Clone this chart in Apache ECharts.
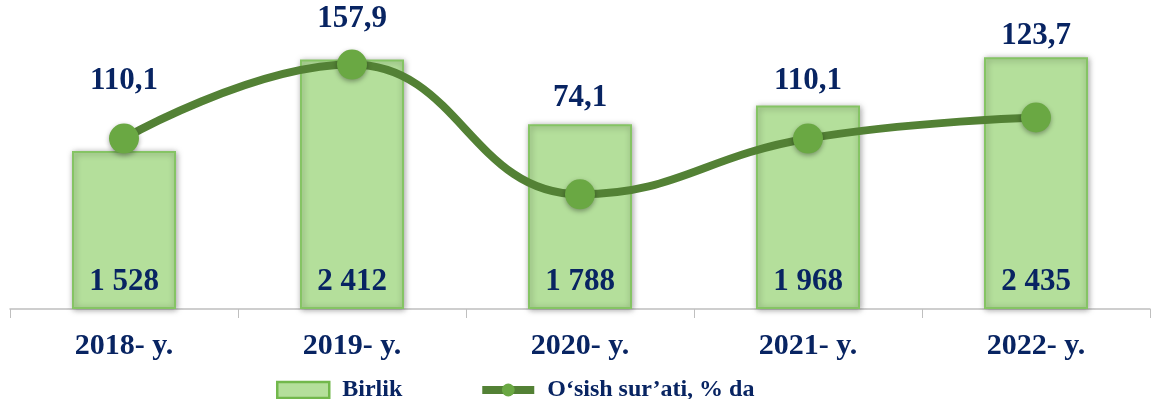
<!DOCTYPE html>
<html lang="en">
<head>
    <meta charset="UTF-8">
    <title>Birlik</title>
    <style>
        html, body, #chart {
            margin: 0;
            padding: 0;
            width: 1151px;
            height: 399px;
            background: #fff;
        }
    </style>
</head>
<body>
    <div id="chart"></div>
    <script src="https://cdn.jsdelivr.net/npm/echarts@6/dist/echarts.min.js"></script>
    <script>
        // data
        var years = ['2018- y.', '2019- y.', '2020- y.', '2021- y.', '2022- y.'];
        var units = [1528, 2412, 1788, 1968, 2435];
        var growth = [110.1, 157.9, 74.1, 110.1, 123.7];
        var seriesNames = ['Birlik', 'O\u2018sish sur\u2019ati, % da'];

        var navy = '#082462';
        var font = '"Liberation Serif", "Times New Roman", serif';

        // how far each growth label sits above its point (it was placed by hand in the original)
        var lift = [22, 10, 61, 22, 46];

        function fmtUnits(v) {
            return String(v).replace(/\B(?=(\d{3})+(?!\d))/g, ' ');
        }

        var chart = echarts.init(document.getElementById('chart'));

        chart.setOption({
            animation: false,
            grid: { left: 10, right: 1, top: 19.5, bottom: 90 },
            legend: {
                left: 271,
                top: 373,
                itemGap: 76,
                itemWidth: 52,
                itemHeight: 16,
                textStyle: { fontFamily: font, fontWeight: 'bold', fontSize: 24, color: navy, padding: [0, 0, 0, 8] },
                data: [
                    { name: seriesNames[0], icon: 'rect',
                      itemStyle: { color: '#b4df9b', borderColor: '#72b84c', borderWidth: 2.5 } },
                    { name: seriesNames[1],
                      lineStyle: { color: '#538135', width: 8 },
                      itemStyle: { color: '#6aa843', shadowBlur: 0 } }
                ]
            },
            xAxis: {
                type: 'category',
                data: years,
                axisLine: { lineStyle: { color: '#bfbfbf', width: 1.5 } },
                axisTick: { show: true, length: 9, lineStyle: { color: '#bfbfbf' } },
                axisLabel: {
                    margin: 22,
                    fontFamily: font, fontWeight: 'bold', fontSize: 30, color: navy
                }
            },
            yAxis: [
                { type: 'value', min: 0, max: 2800, show: false, splitLine: { show: false } },
                { type: 'value', min: 0, max: 187, show: false, splitLine: { show: false } }
            ],
            series: [
                {
                    name: seriesNames[0],
                    type: 'bar',
                    barWidth: 104,
                    data: units,
                    itemStyle: {
                        color: '#b4df9b',
                        borderColor: '#85c464',
                        borderWidth: 2,
                        shadowColor: 'rgba(0,0,0,0.35)',
                        shadowBlur: 6,
                        shadowOffsetX: 1,
                        shadowOffsetY: 1
                    },
                    label: {
                        show: true,
                        position: 'insideBottom',
                        distance: 12,
                        formatter: function (p) { return fmtUnits(p.value); },
                        fontFamily: font, fontWeight: 'bold', fontSize: 31, color: navy
                    }
                },
                {
                    name: seriesNames[1],
                    type: 'line',
                    yAxisIndex: 1,
                    smooth: 0.45,
                    symbol: 'circle',
                    symbolSize: 30,
                    lineStyle: { color: '#538135', width: 8 },
                    itemStyle: {
                        color: '#6aa843',
                        shadowColor: 'rgba(0,0,0,0.35)',
                        shadowBlur: 5,
                        shadowOffsetY: 2
                    },
                    data: growth.map(function (v, i) {
                        return { value: v, label: { offset: [0, -lift[i]] } };
                    }),
                    label: {
                        show: true,
                        position: 'top',
                        distance: 5,
                        formatter: function (p) { return p.value.toFixed(1).replace('.', ','); },
                        fontFamily: font, fontWeight: 'bold', fontSize: 31, color: navy
                    },
                    z: 3
                }
            ]
        });
    </script>
</body>
</html>
